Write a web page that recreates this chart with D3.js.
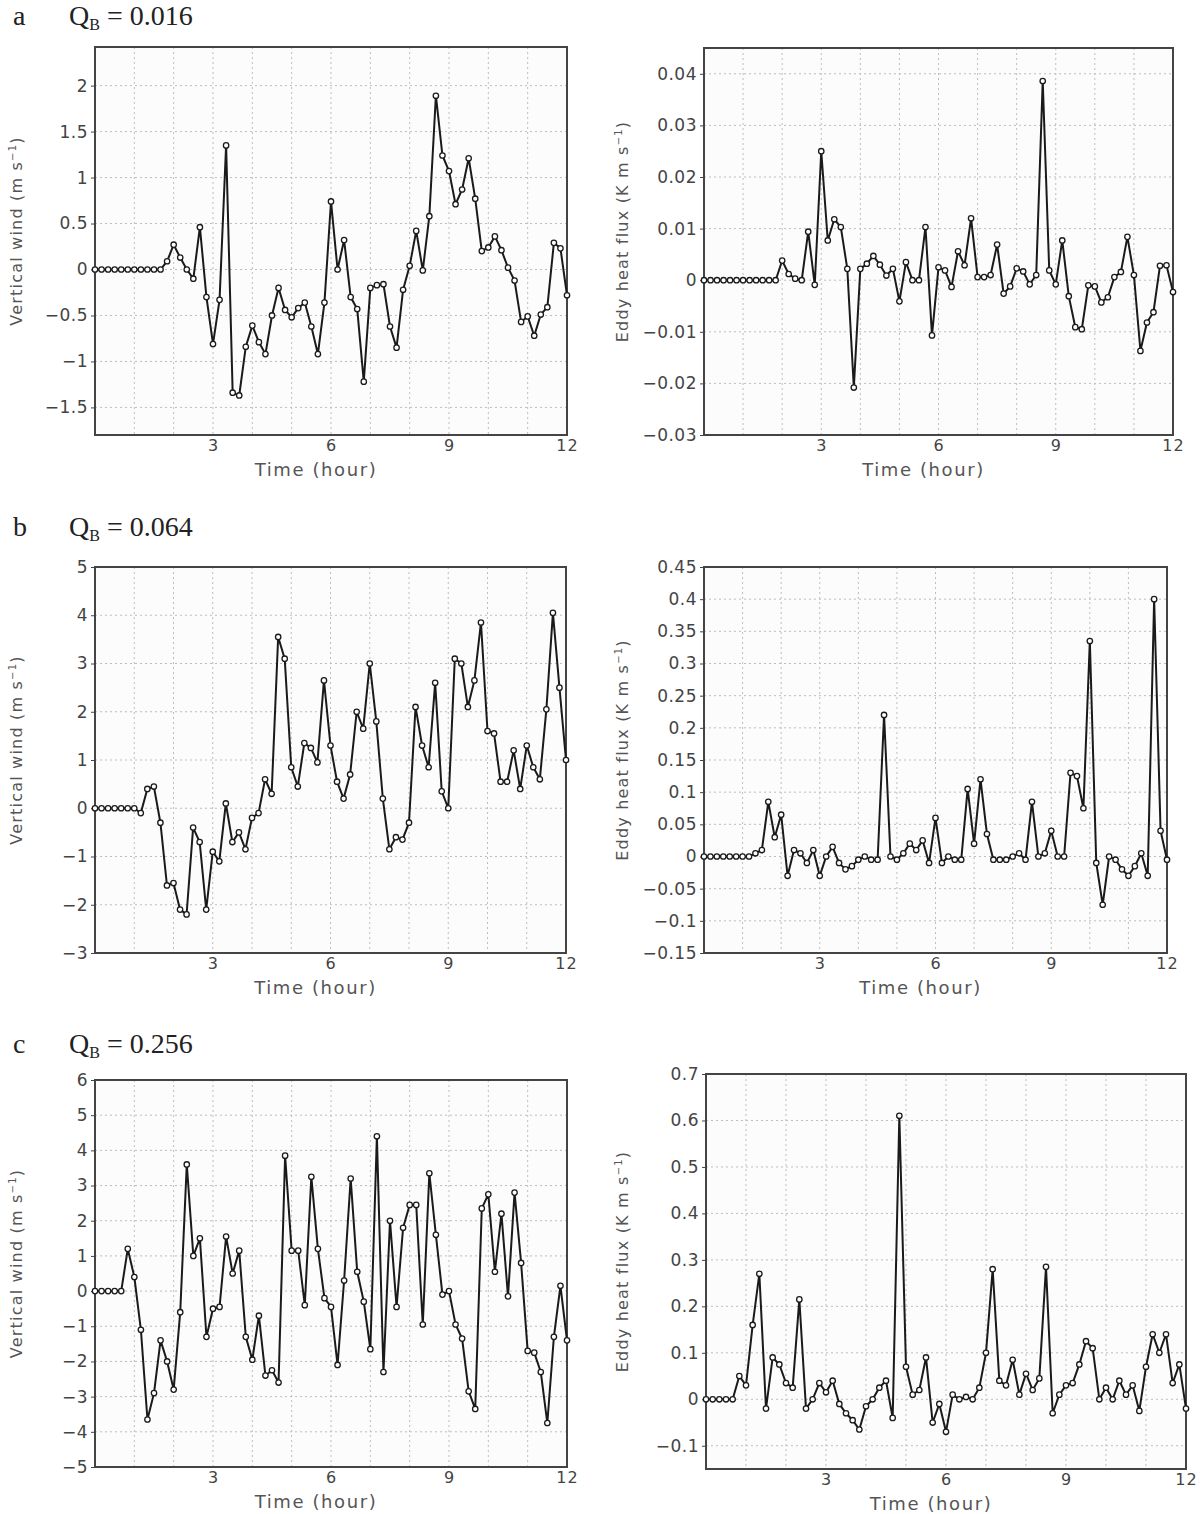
<!DOCTYPE html>
<html>
<head>
<meta charset="utf-8">
<script src="https://cdn.jsdelivr.net/npm/d3@7"></script>
<style>
  body { margin: 0; background: #fff; }
  svg text { font-family: "DejaVu Sans", sans-serif; }
</style>
</head>
<body>
<div id="chart"></div>
<script>
/**
 * CONSTANTS AND GLOBALS
 * */
const width = 1200,
  height = 1514;

// one sample every 10 minutes, 0..12 h
const stepHours = 1 / 6;
const hourGrid = [1, 2, 3, 4, 5, 6, 7, 8, 9, 10, 11];
const hourLabels = [3, 6, 9, 12];

// panel titles
const rowLetters = ["a", "b", "c"];
const qbValues = ["0.016", "0.064", "0.256"];

// y ticks per panel
const windTicksA = [-1.5, -1, -0.5, 0, 0.5, 1, 1.5, 2];
const fluxTicksA = [-0.03, -0.02, -0.01, 0, 0.01, 0.02, 0.03, 0.04];
const windTicksB = [-3, -2, -1, 0, 1, 2, 3, 4, 5];
const fluxTicksB = [-0.15, -0.1, -0.05, 0, 0.05, 0.1, 0.15, 0.2, 0.25, 0.3, 0.35, 0.4, 0.45];
const windTicksC = [-5, -4, -3, -2, -1, 0, 1, 2, 3, 4, 5, 6];
const fluxTicksC = [-0.1, 0, 0.1, 0.2, 0.3, 0.4, 0.5, 0.6, 0.7];

// series
const windA = [0, 0, 0, 0, 0, 0, 0, 0, 0, 0, 0,
  0.09, 0.27, 0.13, 0.0, -0.10, 0.46, -0.30, -0.81, -0.33, 1.35,
  -1.34, -1.37, -0.84, -0.61, -0.79, -0.92, -0.50, -0.20, -0.44, -0.52,
  -0.42, -0.36, -0.62, -0.92, -0.36, 0.74, 0.0, 0.32, -0.30, -0.43,
  -1.22, -0.20, -0.17, -0.16, -0.62, -0.85, -0.22, 0.04, 0.42, -0.01,
  0.58, 1.89, 1.24, 1.07, 0.71, 0.87, 1.21, 0.77, 0.20, 0.24,
  0.36, 0.21, 0.02, -0.12, -0.57, -0.51, -0.72, -0.49, -0.41, 0.29,
  0.23, -0.28];

const fluxA = [0, 0, 0, 0, 0, 0, 0, 0, 0, 0, 0, 0,
  0.0038, 0.0012, 0.0003, 0.0, 0.0094, -0.0009, 0.025, 0.0077, 0.0118,
  0.0103, 0.0022, -0.0208, 0.0022, 0.0032, 0.0047, 0.003, 0.0009, 0.0022,
  -0.0041, 0.0035, 0.0, 0.0, 0.0103, -0.0107, 0.0025, 0.0019, -0.0013,
  0.0056, 0.0029, 0.012, 0.0006, 0.0006, 0.001, 0.0069, -0.0026, -0.0012,
  0.0023, 0.0017, -0.0008, 0.001, 0.0386, 0.0019, -0.0008, 0.0077, -0.0031,
  -0.0091, -0.0095, -0.001, -0.0012, -0.0043, -0.0033, 0.0006, 0.0016, 0.0084,
  0.001, -0.0137, -0.0082, -0.0062, 0.0028, 0.0029, -0.0023];

const windB = [0, 0, 0, 0, 0, 0, 0,
  -0.1, 0.4, 0.45, -0.3, -1.6, -1.55, -2.1, -2.2, -0.4, -0.7,
  -2.1, -0.9, -1.1, 0.1, -0.7, -0.5, -0.85, -0.2, -0.1, 0.6,
  0.3, 3.55, 3.1, 0.85, 0.45, 1.35, 1.25, 0.95, 2.65, 1.3,
  0.55, 0.2, 0.7, 2.0, 1.65, 3.0, 1.8, 0.2, -0.85, -0.6,
  -0.65, -0.3, 2.1, 1.3, 0.85, 2.6, 0.35, 0.0, 3.1, 3.0,
  2.1, 2.65, 3.85, 1.6, 1.55, 0.55, 0.55, 1.2, 0.4, 1.3,
  0.85, 0.6, 2.05, 4.05, 2.5, 1.0];

const fluxB = [0, 0, 0, 0, 0, 0, 0, 0,
  0.005, 0.01, 0.085, 0.03, 0.065, -0.03, 0.01, 0.005, -0.01, 0.01,
  -0.03, 0.0, 0.015, -0.01, -0.02, -0.015, -0.005, 0.0, -0.005, -0.005,
  0.22, 0.0, -0.005, 0.005, 0.02, 0.01, 0.025, -0.01, 0.06, -0.01,
  0.0, -0.005, -0.005, 0.105, 0.02, 0.12, 0.035, -0.005, -0.005, -0.005,
  0.0, 0.005, -0.005, 0.085, 0.0, 0.005, 0.04, 0.0, 0.0, 0.13,
  0.125, 0.075, 0.335, -0.01, -0.075, 0.0, -0.005, -0.02, -0.03, -0.015,
  0.005, -0.03, 0.4, 0.04, -0.005];

const windC = [0, 0, 0, 0, 0,
  1.2, 0.4, -1.1, -3.65, -2.9, -1.4, -2.0, -2.8, -0.6, 3.6,
  1.0, 1.5, -1.3, -0.5, -0.45, 1.55, 0.5, 1.15, -1.3, -1.95,
  -0.7, -2.4, -2.25, -2.6, 3.85, 1.15, 1.15, -0.4, 3.25, 1.2,
  -0.2, -0.45, -2.1, 0.3, 3.2, 0.55, -0.3, -1.65, 4.4, -2.3,
  2.0, -0.45, 1.8, 2.45, 2.45, -0.95, 3.35, 1.6, -0.1, 0.0,
  -0.95, -1.35, -2.85, -3.35, 2.35, 2.75, 0.55, 2.2, -0.15, 2.8,
  0.8, -1.7, -1.75, -2.3, -3.75, -1.3, 0.15, -1.4];

const fluxC = [0, 0, 0, 0, 0,
  0.05, 0.03, 0.16, 0.27, -0.02, 0.09, 0.075, 0.035, 0.025, 0.215,
  -0.02, 0.0, 0.035, 0.015, 0.04, -0.01, -0.03, -0.045, -0.065, -0.015,
  0.0, 0.025, 0.04, -0.04, 0.61, 0.07, 0.01, 0.02, 0.09, -0.05,
  -0.01, -0.07, 0.01, 0.0, 0.005, 0.0, 0.025, 0.1, 0.28, 0.04,
  0.03, 0.085, 0.01, 0.055, 0.02, 0.045, 0.285, -0.03, 0.01, 0.03,
  0.035, 0.075, 0.125, 0.11, 0.0, 0.025, 0.0, 0.04, 0.01, 0.03,
  -0.025, 0.07, 0.14, 0.1, 0.14, 0.035, 0.075, -0.02];

/**
 * PANEL LAYOUT
 * */
const panels = [
  { values: windA, ticks: windTicksA, domain: [-1.8, 2.42], kind: "wind", x0: 95, x1: 567, y0: 47, y1: 435 },
  { values: fluxA, ticks: fluxTicksA, domain: [-0.03, 0.045], kind: "flux", x0: 704, x1: 1173, y0: 48, y1: 435 },
  { values: windB, ticks: windTicksB, domain: [-3, 5], kind: "wind", x0: 95, x1: 566, y0: 567, y1: 953 },
  { values: fluxB, ticks: fluxTicksB, domain: [-0.15, 0.45], kind: "flux", x0: 704, x1: 1167, y0: 567, y1: 953 },
  { values: windC, ticks: windTicksC, domain: [-5, 6], kind: "wind", x0: 95, x1: 567, y0: 1080, y1: 1467 },
  { values: fluxC, ticks: fluxTicksC, domain: [-0.15, 0.7], kind: "flux", x0: 706, x1: 1186, y0: 1074, y1: 1469 }
];
const titleY = [25, 536, 1053];

const svg = d3.select("#chart").append("svg")
  .attr("width", width)
  .attr("height", height)
  .style("background", "#fff");

// row titles
rowLetters.forEach((letter, i) => {
  const t = svg.append("text")
    .attr("x", 13)
    .attr("y", titleY[i])
    .style("font-family", "'Liberation Serif', 'Times New Roman', serif")
    .style("font-size", "28px")
    .attr("fill", "#222");
  t.append("tspan").text(letter);
  t.append("tspan").attr("x", 69).text("Q");
  t.append("tspan").attr("dy", 5).style("font-size", "16px").text("B");
  t.append("tspan").attr("dy", -5).text(" = " + qbValues[i]);
});

panels.forEach(drawPanel);

function drawPanel(p) {
  const x = d3.scaleLinear().domain([0, 12]).range([p.x0, p.x1]);
  const y = d3.scaleLinear().domain(p.domain).range([p.y1, p.y0]);
  const g = svg.append("g");

  g.append("rect")
    .attr("x", p.x0).attr("y", p.y0)
    .attr("width", p.x1 - p.x0).attr("height", p.y1 - p.y0)
    .attr("fill", "#fcfcfc");

  // dotted grid
  g.selectAll(".vgrid").data(hourGrid).join("line")
    .attr("x1", d => x(d)).attr("x2", d => x(d))
    .attr("y1", p.y0).attr("y2", p.y1)
    .attr("stroke", "#bdbdbd").attr("stroke-width", 1)
    .attr("stroke-dasharray", "2,3");

  g.selectAll(".hgrid").data(p.ticks.filter(d => y(d) > p.y0 + 2 && y(d) < p.y1 - 2)).join("line")
    .attr("x1", p.x0).attr("x2", p.x1)
    .attr("y1", d => y(d)).attr("y2", d => y(d))
    .attr("stroke", "#bdbdbd").attr("stroke-width", 1)
    .attr("stroke-dasharray", "2,3");

  // axes
  const yAxis = d3.axisLeft(y).tickValues(p.ticks).tickSize(4).tickPadding(3)
    .tickFormat(d => (d < 0 ? "\u2212" : "") + d3.format("")(Math.abs(d)));
  const yg = g.append("g").attr("transform", `translate(${p.x0},0)`).call(yAxis);
  yg.select(".domain").remove();
  yg.selectAll("line").attr("stroke", "#444");
  yg.selectAll("text").style("font-size", "17px").style("letter-spacing", "0.5px").attr("fill", "#444");

  const xAxis = d3.axisBottom(x).tickValues(hourLabels).tickSize(0).tickPadding(5)
    .tickFormat(d3.format("d"));
  const xg = g.append("g").attr("transform", `translate(0,${p.y1})`).call(xAxis);
  xg.select(".domain").remove();
  xg.selectAll("text").style("font-size", "16px").style("letter-spacing", "1px").attr("fill", "#444");

  g.append("rect")
    .attr("x", p.x0).attr("y", p.y0)
    .attr("width", p.x1 - p.x0).attr("height", p.y1 - p.y0)
    .attr("fill", "none").attr("stroke", "#444").attr("stroke-width", 2);

  // series
  const pts = p.values.map((v, i) => [i * stepHours, v]);
  const line = d3.line().x(d => x(d[0])).y(d => y(d[1]));
  g.append("path").datum(pts)
    .attr("d", line)
    .attr("fill", "none").attr("stroke", "#1a1a1a").attr("stroke-width", 2);

  g.selectAll(".pt").data(pts).join("circle")
    .attr("cx", d => x(d[0])).attr("cy", d => y(d[1]))
    .attr("r", 2.7)
    .attr("fill", "#fff").attr("stroke", "#1a1a1a").attr("stroke-width", 1.3);

  // axis titles
  const cx = (p.x0 + p.x1) / 2 - 15;
  g.append("text")
    .attr("x", cx).attr("y", p.y1 + 41)
    .attr("text-anchor", "middle")
    .style("font-size", "18px").style("letter-spacing", "1.6px")
    .attr("fill", "#555")
    .text("Time (hour)");

  const cy = (p.y0 + p.y1) / 2 - 10;
  const lx = p.kind === "wind" ? 22 : 628;
  const yl = g.append("text")
    .attr("transform", `translate(${lx},${cy}) rotate(-90)`)
    .attr("text-anchor", "middle")
    .style("font-size", "16px").style("letter-spacing", "1.2px")
    .attr("fill", "#555");
  yl.append("tspan").text(p.kind === "wind" ? "Vertical wind (m s" : "Eddy heat flux (K m s");
  yl.append("tspan").attr("dy", -6).style("font-size", "10px").text("\u22121");
  yl.append("tspan").attr("dy", 6).text(")");
}
</script>
</body>
</html>
